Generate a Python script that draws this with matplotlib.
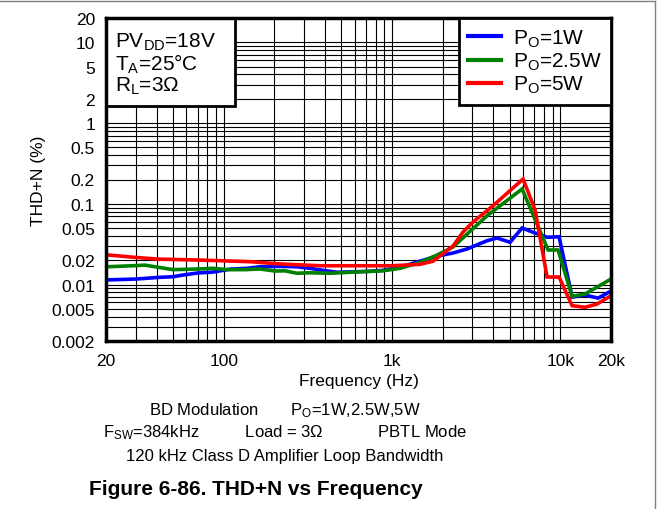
import matplotlib
matplotlib.use("Agg")
import matplotlib.pyplot as plt
from matplotlib.patches import Rectangle
from matplotlib.lines import Line2D
from matplotlib.ticker import FixedLocator, FixedFormatter, LogLocator, NullFormatter
from matplotlib import font_manager

plt.rcParams['font.family'] = ['Liberation Sans', 'DejaVu Sans']
plt.rcParams['mathtext.fontset'] = 'custom'
plt.rcParams['mathtext.rm'] = 'Liberation Sans'
plt.rcParams['mathtext.it'] = 'Liberation Sans'

# ---- data ----
f_1w = [20, 30, 42, 50, 57, 70, 87, 109, 138, 164, 216, 273, 326, 389, 470, 741, 885,
        1164, 1468, 1852, 2306, 2793, 3671, 4212, 5030, 5927, 7080, 8344, 9830,
        11750, 14030, 16770, 20000]
thd_1w = [0.0114, 0.0117, 0.0123, 0.0125, 0.0131, 0.0139, 0.0143, 0.0155, 0.0159, 0.0166,
          0.0168, 0.0166, 0.0159, 0.0150, 0.0142, 0.0146, 0.0150, 0.0168, 0.0195, 0.0225,
          0.0246, 0.0276, 0.0349, 0.0377, 0.0334, 0.0502, 0.0435, 0.0385, 0.0391,
          0.0070, 0.0074, 0.0068, 0.0083]

f_2w5 = [20, 29, 34, 50, 72, 86, 105, 134, 164, 202, 231, 273, 326, 428, 563, 885, 1117,
         1468, 1852, 2306, 3671, 5927, 8460, 9697, 11750, 14030, 20000]
thd_2w5 = [0.0166, 0.0171, 0.0174, 0.0153, 0.0156, 0.0159, 0.0153, 0.0153, 0.0156, 0.0147,
           0.0148, 0.0138, 0.0140, 0.0138, 0.0142, 0.0148, 0.0159, 0.0188, 0.0232, 0.0292,
           0.0712, 0.1526, 0.0268, 0.0268, 0.00715, 0.00764, 0.0117]

f_5w = [20, 29, 40, 72, 143, 216, 374, 1000, 1468, 1754, 2306, 2644, 3031, 3988, 6007,
        7080, 8344, 9830, 11750, 14030, 16530, 20000]
thd_5w = [0.0234, 0.0218, 0.0207, 0.0201, 0.0192, 0.0180, 0.0171, 0.0171, 0.0178, 0.0195,
          0.0300, 0.0448, 0.0595, 0.0948, 0.2028, 0.0838, 0.0124, 0.0124, 0.00547,
          0.00523, 0.00574, 0.00728]

series_labels = [r'P$_{\mathrm{O}}$=1W', r'P$_{\mathrm{O}}$=2.5W', r'P$_{\mathrm{O}}$=5W']
series_colors = ['#0000ff', '#008000', '#ff0000']

x_ticks = [20, 100, 1000, 10000, 20000]
x_ticklabels = ['20', '100', '1k', '10k', '20k']
y_ticks = [0.002, 0.005, 0.01, 0.02, 0.05, 0.1, 0.2, 0.5, 1, 2, 5, 10, 20]
y_ticklabels = ['0.002', '0.005', '0.01', '0.02', '0.05', '0.1', '0.2', '0.5', '1', '2', '5', '10', '20']

# ---- figure ----
fig = plt.figure(figsize=(6.59, 5.10), dpi=100)
ax = fig.add_axes([106/659, 1-342/510, 505/659, 323/510])

for f, v, lab, c in zip([f_1w, f_2w5, f_5w], [thd_1w, thd_2w5, thd_5w], series_labels, series_colors):
    ax.plot(f, v, color=c, lw=2.6, label=lab, zorder=3, solid_joinstyle='miter')

ax.set_xscale('log')
ax.set_yscale('log')
ax.set_xlim(20, 20000)
ax.set_ylim(0.002, 20)

ax.xaxis.set_major_locator(FixedLocator(x_ticks))
ax.xaxis.set_major_formatter(FixedFormatter(x_ticklabels))
ax.xaxis.set_minor_locator(LogLocator(base=10, subs=range(2, 10)))
ax.xaxis.set_minor_formatter(NullFormatter())
ax.yaxis.set_major_locator(FixedLocator(y_ticks))
ax.yaxis.set_major_formatter(FixedFormatter(y_ticklabels))
ax.yaxis.set_minor_locator(LogLocator(base=10, subs=range(1, 10)))
ax.yaxis.set_minor_formatter(NullFormatter())

ax.grid(True, which='both', color='black', lw=0.8)
ax.tick_params(which='both', length=0, labelsize=12.5)
ax.tick_params(axis='y', pad=8)
ax.tick_params(axis='x', pad=9)
for s in ax.spines.values():
    s.set_linewidth(2.5)
    s.set_zorder(5)

ax.set_ylabel('THD+N (%)', fontsize=12.5, labelpad=4)
ax.set_xlabel('Frequency (Hz)', fontsize=12.5, labelpad=3)

# annotation box top-left
bx = 0.2554
by = 0.7276
ax.add_patch(Rectangle((0, by), bx, 1-by, transform=ax.transAxes, facecolor='white',
                       edgecolor='black', lw=2, zorder=4, clip_on=False))
ann = [r'PV$_{\mathrm{DD}}$=18V', r'T$_{\mathrm{A}}$=25°C', r'R$_{\mathrm{L}}$=3Ω']
for i, t in enumerate(ann):
    ax.text(9/505, 1 - (23 + 22*i)/323, t, transform=ax.transAxes, fontsize=15,
            va='center', ha='left', zorder=6)

leg = ax.legend(loc='upper right', bbox_to_anchor=(1, 1), borderaxespad=0,
                fancybox=False, edgecolor='black', framealpha=1, fontsize=15,
                handlelength=1.6, handletextpad=0.55, labelspacing=0.1,
                borderpad=0.45, handleheight=0.6)
leg.get_frame().set_linewidth(2)
leg.set_zorder(6)
for l in leg.get_lines():
    l.set_linewidth(3)

# bottom text
cx = 285/659
fig.text(cx, 1-411/510, r'BD Modulation       P$_{\mathrm{O}}$=1W,2.5W,5W', ha='center', va='center', fontsize=12)
fig.text(cx, 1-433/510, r'F$_{\mathrm{SW}}$=384kHz          Load = 3Ω            PBTL Mode', ha='center', va='center', fontsize=12)
fig.text(cx, 1-456/510, '120 kHz Class D Amplifier Loop Bandwidth', ha='center', va='center', fontsize=12)

names = {f.name for f in font_manager.fontManager.ttflist}
if 'Liberation Sans Narrow' in names:
    fig.text(256/659, 1-490/510, 'Figure 6-86. THD+N vs Frequency', ha='center', va='center',
             fontsize=18, fontweight='bold', family='Liberation Sans Narrow')
else:
    fig.text(256/659, 1-490/510, 'Figure 6-86. THD+N vs Frequency', ha='center', va='center',
             fontsize=15, fontweight='bold')

# outer frame lines
fig.add_artist(Line2D([0, 655/659], [1-2/510, 1-2/510], transform=fig.transFigure, color='#808080', lw=1))
fig.add_artist(Line2D([655/659, 655/659], [0, 1-2/510], transform=fig.transFigure, color='#808080', lw=1))

fig.savefig('out.png', dpi=100)
